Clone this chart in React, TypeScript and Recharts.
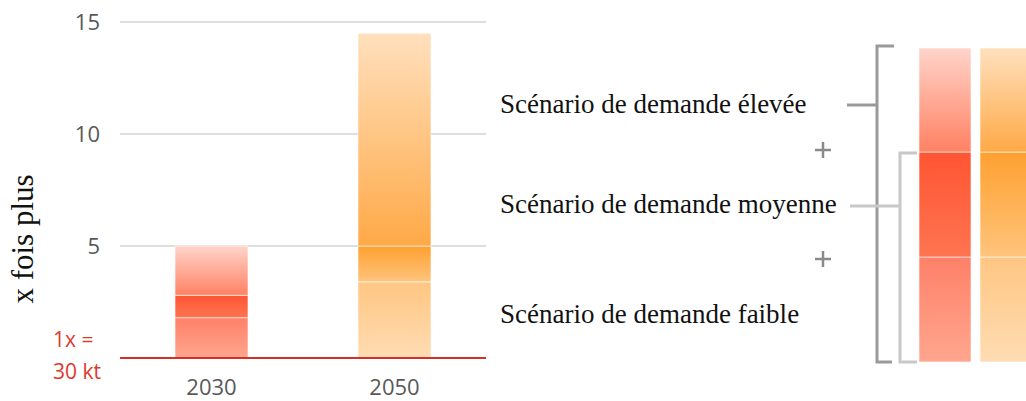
import React from 'react';
import { BarChart, Bar, XAxis, YAxis, CartesianGrid, Cell, Label } from 'recharts';

const categories = ['2030', '2050'];
const lowValues = [1.8, 3.4];
const midValues = [1.0, 1.6];
const highValues = [2.2, 9.5];
const yTicks = [0, 5, 10, 15];
const colorKeys = ['red', 'orange'];
const legendLabels = [
  'Scénario de demande élevée',
  'Scénario de demande moyenne',
  'Scénario de demande faible',
];
const yAxisLabel = 'x fois plus';
const baseLabel = ['1x =', '30 kt'];

const gradients: Record<string, Record<string, [string, string]>> = {
  red: {
    high: ['#ffd4ca', '#ff8163'],
    mid: ['#ff5533', '#ff7450'],
    low: ['#ff8068', '#ffa68e'],
  },
  orange: {
    high: ['#ffe0bd', '#ffa947'],
    mid: ['#ffa030', '#ffc47c'],
    low: ['#ffc682', '#ffdcb3'],
  },
};

const data = categories.map((c, i) => ({
  name: c,
  low: lowValues[i],
  mid: midValues[i],
  high: highValues[i],
}));

const Defs = ({ prefix }: { prefix: string }) => (
  <defs>
    {Object.keys(gradients).map((ck) =>
      Object.keys(gradients[ck]).map((seg) => (
        <linearGradient key={`${ck}-${seg}`} id={`${prefix}-${ck}-${seg}`} x1="0" y1="0" x2="0" y2="1">
          <stop offset="0%" stopColor={gradients[ck][seg][0]} />
          <stop offset="100%" stopColor={gradients[ck][seg][1]} />
        </linearGradient>
      ))
    )}
  </defs>
);

const YTick = (props: any) => {
  const { x, y, payload } = props;
  if (payload.value === 0) {
    return (
      <g>
        <text x={x - 47} y={y - 18} dy="0.355em" textAnchor="start" fill="#de3a2e" fontSize={21} fontFamily="Open Sans">
          {baseLabel[0]}
        </text>
        <text x={x - 47} y={y + 14} dy="0.355em" textAnchor="start" fill="#de3a2e" fontSize={21} fontFamily="Open Sans">
          {baseLabel[1]}
        </text>
      </g>
    );
  }
  return (
    <text x={x} y={y} dy="0.355em" textAnchor="end" fill="#595959" fontSize={22} fontFamily="Open Sans">
      {payload.value}
    </text>
  );
};

const YLabel = () => (
  <text
    x={33}
    y={239}
    transform="rotate(-90, 33, 239)"
    textAnchor="middle"
    fill="#111"
    fontSize={31}
    fontFamily="Liberation Serif, serif"
  >
    {yAxisLabel}
  </text>
);

const segs = ['low', 'mid', 'high'];

const LegendOverlay = () => {
  const top = 48;
  const b1 = 152;
  const b2 = 257;
  const bottom = 362;
  const segY: Record<string, [number, number]> = {
    high: [top, b1],
    mid: [b1, b2],
    low: [b2, bottom],
  };
  const boxes = [
    { ck: 'red', x: 919, w: 52 },
    { ck: 'orange', x: 980, w: 56 },
  ];
  return (
    <svg width={1026} height={401} style={{ position: 'absolute', left: 0, top: 0, pointerEvents: 'none' }}>
      <Defs prefix="lg" />
      {legendLabels.map((t, i) => (
        <text
          key={t}
          x={500}
          y={[113, 213, 323][i]}
          fill="#111"
          fontSize={27}
          fontFamily="Liberation Serif, serif"
        >
          {t}
        </text>
      ))}
      {[150, 259].map((py) => (
        <g key={py} stroke="#8a8a8a" strokeWidth={2.5}>
          <line x1={815} x2={831} y1={py} y2={py} />
          <line x1={823} x2={823} y1={py - 8} y2={py + 8} />
        </g>
      ))}
      <g stroke="#9a9a9a" strokeWidth={3} fill="none">
        <polyline points="894,46 877,46 877,362 892,362" />
        <line x1={847} x2={877} y1={105} y2={105} />
      </g>
      <g stroke="#c8c8c8" strokeWidth={3} fill="none">
        <polyline points="917,153 900,153 900,362 917,362" />
        <line x1={850} x2={900} y1={206} y2={206} />
      </g>
      {boxes.map((b) =>
        segs.map((s) => (
          <rect
            key={`${b.ck}-${s}`}
            x={b.x}
            y={segY[s][0]}
            width={b.w}
            height={segY[s][1] - segY[s][0]}
            fill={`url(#lg-${b.ck}-${s})`}
            stroke="#ffffff"
            strokeOpacity={0.6}
            strokeWidth={1}
          />
        ))
      )}
    </svg>
  );
};

export default function App() {
  return (
    <div style={{ position: 'absolute', left: 0, top: 0, width: 1026, height: 401, background: '#fff' }}>
      <BarChart
        width={1026}
        height={401}
        data={data}
        margin={{ top: 22, right: 540, left: 0, bottom: 0 }}
      >
        <Defs prefix="bar" />
        <CartesianGrid vertical={false} stroke="#dedede" strokeWidth={2} />
        <XAxis
          dataKey="name"
          height={43}
          tickLine={false}
          tickSize={0}
          tickMargin={21}
          axisLine={{ stroke: '#d2302a', strokeWidth: 2 }}
          tick={{ fill: '#595959', fontSize: 22, fontFamily: 'Open Sans' }}
        />
        <YAxis
          width={120}
          domain={[0, 15]}
          ticks={yTicks}
          tickLine={false}
          axisLine={false}
          tickSize={0}
          tickMargin={20}
          tick={<YTick />}
          interval={0}
        >
          <Label content={<YLabel />} />
        </YAxis>
        {segs.map((s) => (
          <Bar
            key={s}
            dataKey={s}
            stackId="a"
            barSize={73}
            isAnimationActive={false}
            stroke="#ffffff"
            strokeOpacity={0.6}
            strokeWidth={1}
          >
            {data.map((d, i) => (
              <Cell key={d.name} fill={`url(#bar-${colorKeys[i]}-${s})`} />
            ))}
          </Bar>
        ))}
      </BarChart>
      <LegendOverlay />
    </div>
  );
}
